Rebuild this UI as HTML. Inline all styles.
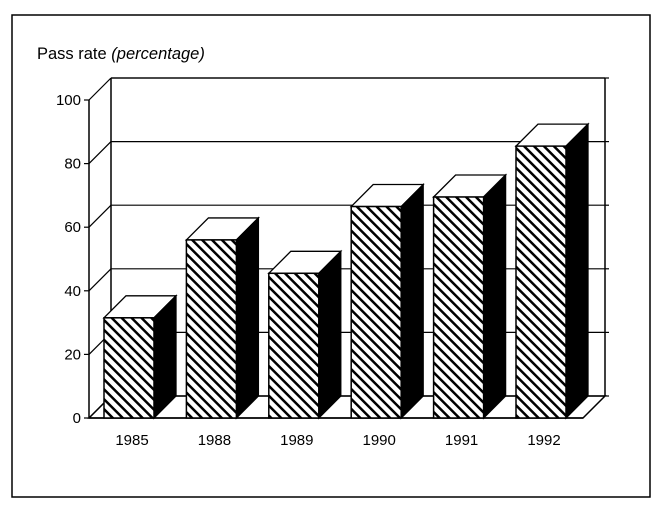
<!DOCTYPE html>
<html><head><meta charset="utf-8"><style>
body{margin:0;background:#fff}
svg{display:block;font-family:"Liberation Sans",Arial,sans-serif}
</style></head><body>
<svg id="c" width="671" height="513" viewBox="0 0 671 513">
<defs>
<pattern id="hatch" patternUnits="userSpaceOnUse" width="7" height="7" patternTransform="rotate(-45)">
<rect width="7" height="7" fill="#fff"/><rect x="0" y="0" width="2.5" height="7" fill="#000"/>
</pattern>
</defs>
<rect x="12" y="15" width="638" height="482" fill="none" stroke="#000" stroke-width="1.5"/>
<text x="37" y="59" font-size="16.5">Pass rate <tspan font-style="italic">(percentage)</tspan></text>
<g id="axes"></g>
<g id="bars"></g>
</svg>
<script>
const categories=["1985","1988","1989","1990","1991","1992"];
const values=[31.5,56,45.5,66.5,69.5,85.5];
const ticks=[0,20,40,60,80,100];
const NS="http://www.w3.org/2000/svg";
const X0=89,Y0=418,PPU=3.18,DX=22,DY=-22,RIGHT=583;
const y=v=>Y0-v*PPU;
const bx=i=>104+i*82.4;
const BW=50;
function mk(t,a,p){const e=document.createElementNS(NS,t);for(const k in a)e.setAttribute(k,a[k]);p.appendChild(e);return e;}
const ax=document.getElementById('axes'),bs=document.getElementById('bars');
let e=mk('polygon',{points:`${X0},${Y0} ${X0+DX},${Y0+DY} ${RIGHT+DX},${Y0+DY} ${RIGHT},${Y0}`,fill:'#fff',stroke:'#000','stroke-width':1.5},ax);

ticks.forEach(t=>{
 const g=mk('g',{},ax);
 
 mk('line',{x1:X0,y1:y(t),x2:X0+DX,y2:y(t)+DY,stroke:'#000','stroke-width':1.2},g);
 mk('line',{x1:X0+DX,y1:y(t)+DY,x2:RIGHT+DX,y2:y(t)+DY,stroke:'#000','stroke-width':1.2},g);
 mk('line',{x1:RIGHT+DX,y1:y(t)+DY,x2:RIGHT+DX+4,y2:y(t)+DY,stroke:'#000','stroke-width':1.2},g);
 mk('line',{x1:X0-5,y1:y(t),x2:X0,y2:y(t),stroke:'#000','stroke-width':1.2},g);
 const tx=mk('text',{x:X0-8,y:y(t)+5,'font-size':15,'text-anchor':'end'},ax);tx.textContent=t;
 
});
mk('line',{x1:X0,y1:Y0,x2:X0,y2:y(100),stroke:'#000','stroke-width':1.5},ax);
mk('line',{x1:X0+DX,y1:Y0+DY,x2:X0+DX,y2:y(100)+DY,stroke:'#000','stroke-width':1.5},ax);
mk('line',{x1:RIGHT+DX,y1:Y0+DY,x2:RIGHT+DX,y2:y(100)+DY,stroke:'#000','stroke-width':1.5},ax);
mk('line',{x1:X0+DX,y1:y(100)+DY,x2:RIGHT+DX,y2:y(100)+DY,stroke:'#000','stroke-width':1.2},ax);
mk('line',{x1:X0,y1:Y0,x2:RIGHT,y2:Y0,stroke:'#000','stroke-width':1.5},ax);
categories.forEach((c,i)=>{
 const x=bx(i),top=y(values[i]);
 const g=mk('g',{},bs);
 
 mk('polygon',{points:`${x},${top} ${x+DX},${top+DY} ${x+BW+DX},${top+DY} ${x+BW},${top}`,fill:'#fff',stroke:'#000','stroke-width':1.3},g);
 mk('polygon',{points:`${x+BW},${top} ${x+BW+DX},${top+DY} ${x+BW+DX},${Y0+DY} ${x+BW},${Y0}`,fill:'#000',stroke:'#000','stroke-width':1.3},g);
 mk('rect',{x:x,y:top,width:BW,height:Y0-top,fill:'url(#hatch)',stroke:'#000','stroke-width':1.5},g);
 const t=mk('text',{x:x+BW/2+3,y:445,'font-size':15,'text-anchor':'middle'},bs);t.textContent=c;
 
});
</script>
</body></html>
